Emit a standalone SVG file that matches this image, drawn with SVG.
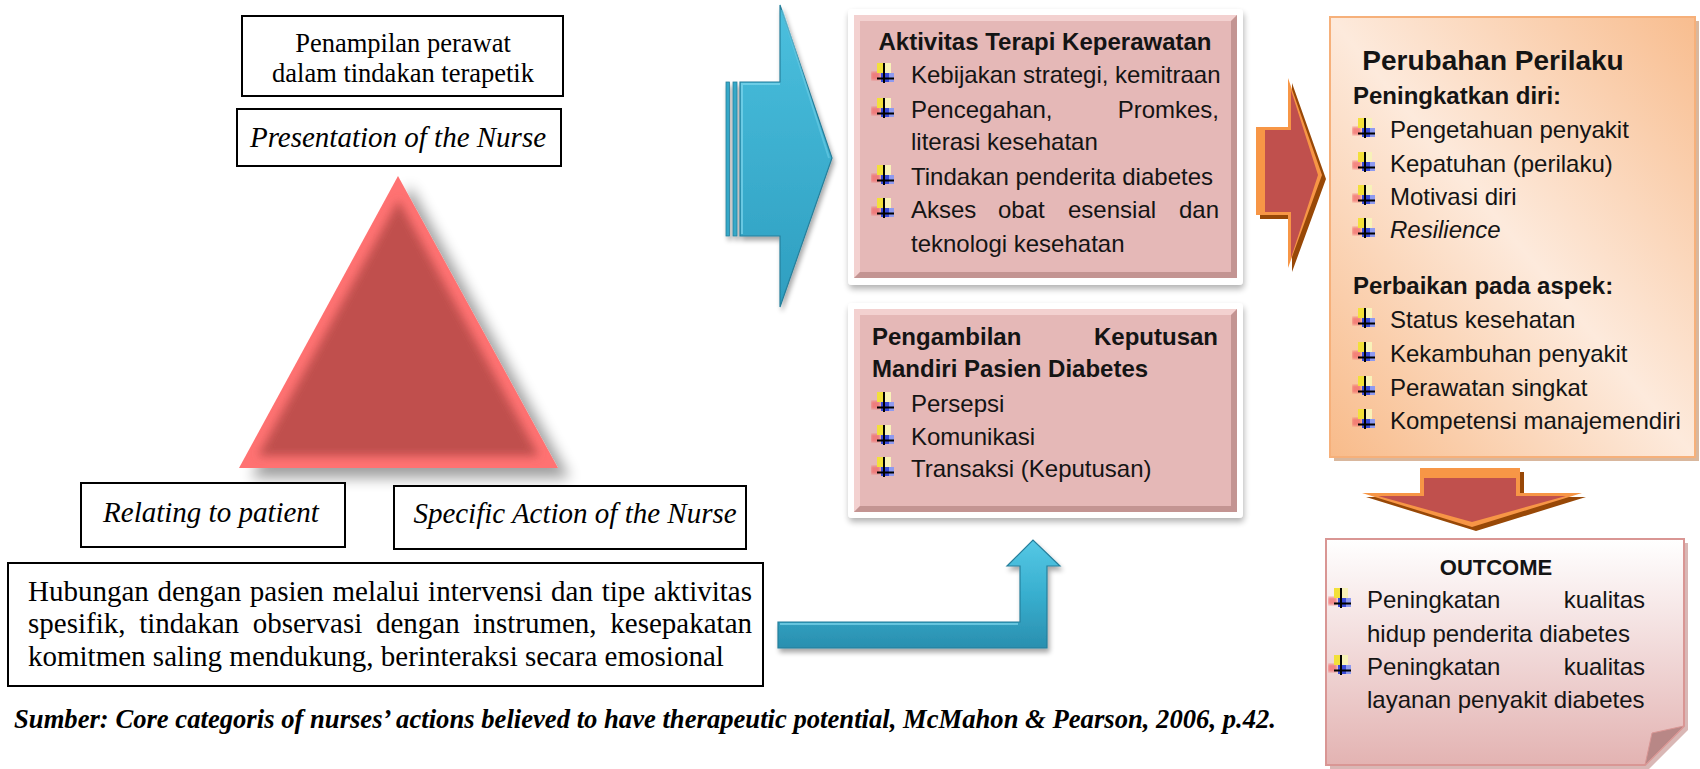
<svg xmlns="http://www.w3.org/2000/svg" xmlns:xlink="http://www.w3.org/1999/xlink" width="1700" height="769" viewBox="0 0 1700 769">
<style>
.tnr{font-family:"Liberation Serif","Times New Roman",serif;fill:#000}
.ar{font-family:"Liberation Sans",Arial,sans-serif;fill:#141414;font-size:24px}
.b{font-weight:bold}
.i{font-style:italic}
.c{text-anchor:middle}
.e{text-anchor:end}
.box{fill:#fff;stroke:#000;stroke-width:2}
.frame{fill:#fff}
.pink{fill:#E5B8B7}
.hl{fill:#F3D1D0}
.dk{fill:#C39492}
.blue{fill:url(#gBlue);stroke:#267F9B;stroke-width:1.2}
.redA{fill:#C0504D}
.orA{fill:#F79646}
.brA{fill:#984807}
</style>
<defs>
<filter id="shTri" x="-20%" y="-20%" width="150%" height="150%">
<feGaussianBlur in="SourceAlpha" stdDeviation="7"/>
<feOffset dx="12" dy="10"/>
<feComponentTransfer><feFuncA type="linear" slope="0.38"/></feComponentTransfer>
<feMerge><feMergeNode/><feMergeNode in="SourceGraphic"/></feMerge>
</filter>
<filter id="shBox" x="-10%" y="-10%" width="120%" height="125%">
<feGaussianBlur in="SourceAlpha" stdDeviation="3"/>
<feOffset dx="1" dy="4"/>
<feComponentTransfer><feFuncA type="linear" slope="0.3"/></feComponentTransfer>
<feMerge><feMergeNode/><feMergeNode in="SourceGraphic"/></feMerge>
</filter>
<filter id="shArr" x="-10%" y="-10%" width="130%" height="130%">
<feGaussianBlur in="SourceAlpha" stdDeviation="2.5"/>
<feOffset dx="2" dy="4"/>
<feComponentTransfer><feFuncA type="linear" slope="0.35"/></feComponentTransfer>
<feMerge><feMergeNode/><feMergeNode in="SourceGraphic"/></feMerge>
</filter>
<filter id="blur5"><feGaussianBlur stdDeviation="5"/></filter>
<filter id="blur1"><feGaussianBlur stdDeviation="1"/></filter>
<clipPath id="triClip"><polygon points="398,176 239,468 558,468"/></clipPath>
<linearGradient id="gBlue" x1="0" y1="0" x2="0" y2="1">
<stop offset="0" stop-color="#4BC0DE"/>
<stop offset="1" stop-color="#2E9EC0"/>
</linearGradient>
<linearGradient id="gBlueH" x1="0" y1="0" x2="0" y2="1">
<stop offset="0" stop-color="#56C8E5"/>
<stop offset="0.5" stop-color="#38AFCF"/>
<stop offset="1" stop-color="#2A8FAF"/>
</linearGradient>
<linearGradient id="gOrange" x1="0" y1="1" x2="1" y2="0">
<stop offset="0" stop-color="#F8BB8A"/>
<stop offset="0.5" stop-color="#FDEADC"/>
<stop offset="1" stop-color="#F8BD8F"/>
</linearGradient>
<linearGradient id="gOut" x1="0" y1="0" x2="0" y2="1">
<stop offset="0" stop-color="#FFFFFF"/>
<stop offset="1" stop-color="#E3B3B2"/>
</linearGradient>
<symbol id="bul" viewBox="0 0 24 20" width="24" height="20">
<rect x="0" y="9" width="9" height="8" fill="#F26A6A" opacity="0.75" filter="url(#blur1)"/>
<rect x="6" y="0" width="7" height="10" fill="#F2E03A"/>
<rect x="13" y="0" width="7" height="10" fill="#F8F2B8"/>
<rect x="10" y="10" width="13" height="9" fill="#3A4BD8"/>
<rect x="18" y="10" width="5" height="9" fill="#8E9AF0"/>
<rect x="12" y="0" width="2" height="20" fill="#000"/>
<rect x="6" y="14.5" width="17" height="2" fill="#000"/>
</symbol>
</defs>

<rect width="1700" height="769" fill="#fff"/>

<g id="connectors">
<g id="arrow-blue-right" filter="url(#shArr)">
<rect x="726" y="82" width="3.5" height="154" fill="#35A8C8" stroke="#267F9B" stroke-width="0.8"/>
<rect x="733" y="82" width="4" height="154" fill="#35A8C8" stroke="#267F9B" stroke-width="0.8"/>
<polygon class="blue" points="740,82 780,82 780,5 832,158 780,307 780,236 740,236"/>
<polyline points="742,234 742,84 780,84" fill="none" stroke="#7ED6EC" stroke-width="2" opacity="0.7"/>
<polyline points="782,10 829,158" fill="none" stroke="#6CCDE6" stroke-width="2" opacity="0.6"/>
</g>
<g id="arrow-blue-up" filter="url(#shArr)">
<polygon points="778,622 1020,622 1020,566 1007,566 1033,540 1060,566 1047,566 1047,648 778,648" fill="url(#gBlueH)" stroke="#267F9B" stroke-width="1.2"/>
<polyline points="780,624 1018,624" fill="none" stroke="#7ED6EC" stroke-width="2" opacity="0.7"/>
</g>
<g id="arrow-red-right">
<polygon class="brA" points="1260,131 1292,131 1292,83 1326,179 1292,272 1292,219 1260,219"/>
<polygon class="orA" points="1256,127 1288,127 1288,78 1322,175 1288,268 1288,215 1256,215"/>
<polygon class="redA" points="1265,130 1291,130 1291,90 1318,175 1291,258 1291,212 1265,212"/>
</g>
<g id="arrow-red-down">
<polygon class="brA" points="1424,472 1524,472 1524,497 1586,497 1476,531 1366,497 1424,497"/>
<polygon class="orA" points="1420,468 1520,468 1520,493 1582,493 1472,527 1362,493 1420,493"/>
<polygon class="redA" points="1424,478 1516,478 1516,496 1566,496 1472,522 1378,496 1424,496"/>
</g>
</g>

<g id="n-penampilan">
<rect class="box" x="242" y="16" width="321" height="80"/>
<text class="tnr c" x="403" y="52" font-size="26.5">Penampilan perawat</text>
<text class="tnr c" x="403" y="82" font-size="26.5">dalam tindakan terapetik</text>
</g>

<g id="n-presentation">
<rect class="box" x="237" y="109" width="324" height="57"/>
<text class="tnr i c" x="398" y="147" font-size="29">Presentation of the Nurse</text>
</g>

<g id="n-triangle" filter="url(#shTri)">
<polygon points="398,176 239,468 558,468" fill="#FF7272"/>
<g clip-path="url(#triClip)">
<polygon points="398.5,200 258,456 539,456" fill="#C0504D" filter="url(#blur5)"/>
</g>
</g>

<g id="n-relating">
<rect class="box" x="81" y="483" width="264" height="64"/>
<text class="tnr i c" x="211" y="522" font-size="29">Relating to patient</text>
</g>

<g id="n-specific">
<rect class="box" x="394" y="486" width="352" height="63"/>
<text class="tnr i c" x="575" y="523" font-size="29">Specific Action of the Nurse</text>
</g>

<g id="n-hubungan">
<rect class="box" x="8" y="563" width="755" height="123"/>
<text class="tnr" x="28" y="601" font-size="29" word-spacing="1.4" textLength="724" lengthAdjust="spacing">Hubungan dengan pasien melalui intervensi dan tipe aktivitas</text>
<text class="tnr" x="28" y="633" font-size="29" word-spacing="6.4" textLength="724" lengthAdjust="spacing">spesifik, tindakan observasi dengan instrumen, kesepakatan</text>
<text class="tnr" x="28" y="666" font-size="29">komitmen saling mendukung, berinteraksi secara emosional</text>
</g>

<g id="n-aktivitas">
<rect class="frame" x="848" y="9" width="395" height="276" rx="4" filter="url(#shBox)"/>
<rect class="pink" x="854" y="15" width="383" height="263"/>
<polygon class="hl" points="854,15 1237,15 1231,21 860,21 860,272 854,278"/>
<polygon class="dk" points="1237,15 1237,278 854,278 860,272 1231,272 1231,21"/>
<text class="ar b c" x="1045" y="50">Aktivitas Terapi Keperawatan</text>
<use href="#bul" x="871" y="63"/>
<text class="ar" x="911" y="83">Kebijakan strategi, kemitraan</text>
<use href="#bul" x="871" y="98"/>
<text class="ar" x="911" y="118">Pencegahan,</text>
<text class="ar e" x="1219" y="118">Promkes,</text>
<text class="ar" x="911" y="150">literasi kesehatan</text>
<use href="#bul" x="871" y="165"/>
<text class="ar" x="911" y="185">Tindakan penderita diabetes</text>
<use href="#bul" x="871" y="198"/>
<text class="ar" x="911" y="218">Akses</text>
<text class="ar" x="998" y="218">obat</text>
<text class="ar" x="1068" y="218">esensial</text>
<text class="ar e" x="1219" y="218">dan</text>
<text class="ar" x="911" y="252">teknologi kesehatan</text>
</g>

<g id="n-pengambilan">
<rect class="frame" x="848" y="303" width="395" height="215" rx="4" filter="url(#shBox)"/>
<rect class="pink" x="854" y="309" width="383" height="203"/>
<polygon class="hl" points="854,309 1237,309 1231,315 860,315 860,506 854,512"/>
<polygon class="dk" points="1237,309 1237,512 854,512 860,506 1231,506 1231,315"/>
<text class="ar b" x="872" y="345">Pengambilan</text>
<text class="ar b e" x="1218" y="345">Keputusan</text>
<text class="ar b" x="872" y="377">Mandiri Pasien Diabetes</text>
<use href="#bul" x="871" y="392"/>
<text class="ar" x="911" y="412">Persepsi</text>
<use href="#bul" x="871" y="425"/>
<text class="ar" x="911" y="445">Komunikasi</text>
<use href="#bul" x="871" y="457"/>
<text class="ar" x="911" y="477">Transaksi (Keputusan)</text>
</g>

<g id="n-perubahan">
<rect x="1334" y="21" width="365" height="440" fill="#CFA584" opacity="0.8"/>
<rect x="1330" y="17" width="365" height="440" fill="url(#gOrange)" stroke="#F6B07A" stroke-width="2"/>
<text class="ar b c" x="1493" y="70" style="font-size:28px">Perubahan Perilaku</text>
<text class="ar b" x="1353" y="104">Peningkatkan diri:</text>
<use href="#bul" x="1352" y="118"/>
<text class="ar" x="1390" y="138">Pengetahuan penyakit</text>
<use href="#bul" x="1352" y="152"/>
<text class="ar" x="1390" y="172">Kepatuhan (perilaku)</text>
<use href="#bul" x="1352" y="185"/>
<text class="ar" x="1390" y="205">Motivasi diri</text>
<use href="#bul" x="1352" y="218"/>
<text class="ar i" x="1390" y="238">Resilience</text>
<text class="ar b" x="1353" y="294">Perbaikan pada aspek:</text>
<use href="#bul" x="1352" y="308"/>
<text class="ar" x="1390" y="328">Status kesehatan</text>
<use href="#bul" x="1352" y="342"/>
<text class="ar" x="1390" y="362">Kekambuhan penyakit</text>
<use href="#bul" x="1352" y="376"/>
<text class="ar" x="1390" y="396">Perawatan singkat</text>
<use href="#bul" x="1352" y="409"/>
<text class="ar" x="1390" y="429">Kompetensi manajemendiri</text>
</g>

<g id="n-outcome">
<polygon points="1330,543 1688,543 1688,730 1649,769 1330,769" fill="#C99896" opacity="0.7"/>
<polygon points="1326,539 1684,539 1684,726 1645,765 1326,765" fill="url(#gOut)" stroke="#D99694" stroke-width="2"/>
<polygon points="1645,765 1684,726 1652,733" fill="#B88786" stroke="#D99694" stroke-width="1"/>
<text class="ar b c" x="1496" y="575" style="font-size:22px">OUTCOME</text>
<use href="#bul" x="1328" y="588"/>
<text class="ar" x="1367" y="608">Peningkatan</text>
<text class="ar e" x="1645" y="608">kualitas</text>
<text class="ar" x="1367" y="642">hidup penderita diabetes</text>
<use href="#bul" x="1328" y="655"/>
<text class="ar" x="1367" y="675">Peningkatan</text>
<text class="ar e" x="1645" y="675">kualitas</text>
<text class="ar" x="1367" y="708">layanan penyakit diabetes</text>
</g>

<g id="caption">
<text class="tnr b i" x="14" y="728" font-size="26.5" textLength="1262" lengthAdjust="spacingAndGlyphs">Sumber: Core categoris of nurses’ actions believed to have therapeutic potential, McMahon &amp; Pearson, 2006, p.42.</text>
</g>
</svg>
